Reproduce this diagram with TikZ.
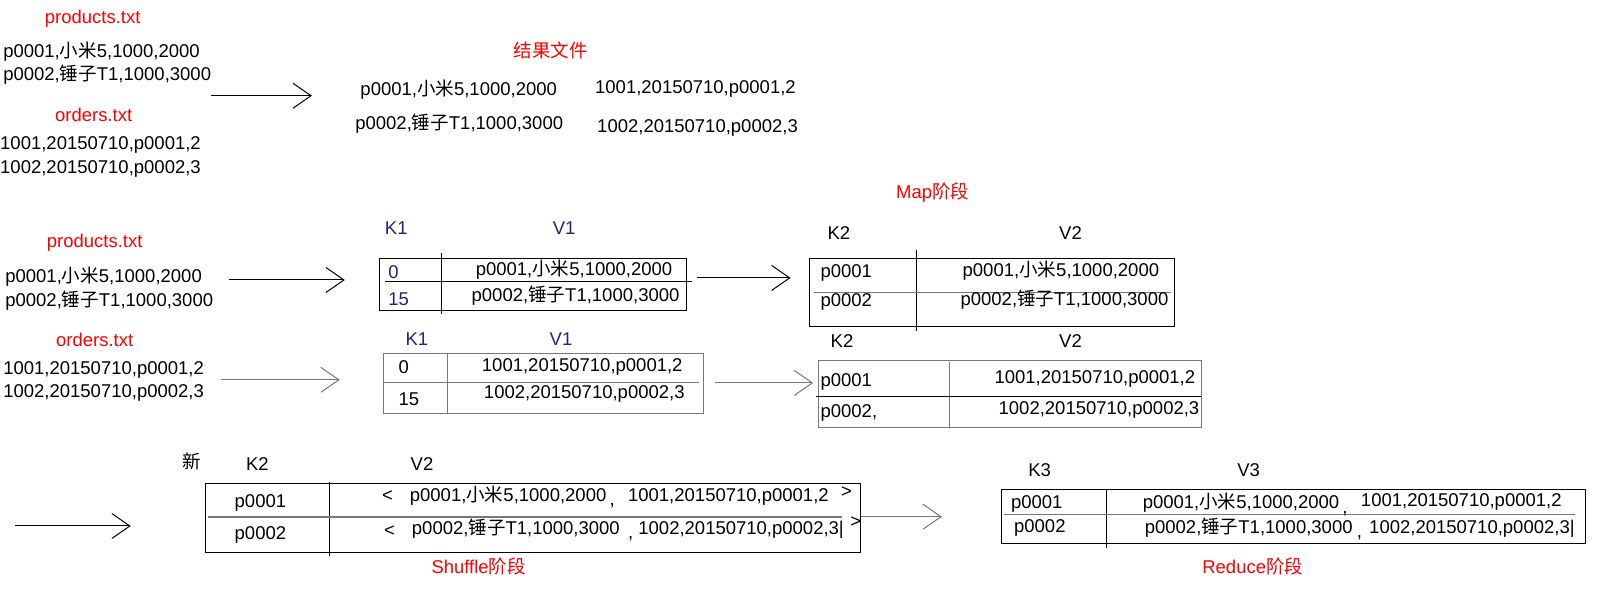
\documentclass[tikz,border=0pt]{standalone}
\usepackage{fontspec}
\setmainfont{Liberation Sans}
\newfontfamily\cjk{Noto Sans CJK SC}
\usetikzlibrary{arrows.meta}
\definecolor{knavy}{RGB}{35,35,125}
\definecolor{lgrey}{RGB}{120,120,120}
\begin{document}
\begin{tikzpicture}[x=1.0293pt,y=-1.0293pt,
  txt/.style={inner sep=0pt, font=\fontsize{18.5}{20}\selectfont, anchor=mid west, yshift=-3pt},
  ctxt/.style={txt, anchor=mid},
  lbl/.style={ctxt, text=red},
  hdr/.style={ctxt, text=knavy},
  arr/.style={line width=1pt, -{Straight Barb[length=18pt,width=25pt]}},
  tline/.style={line width=1pt},
  gline/.style={line width=1pt, draw=lgrey}]
\useasboundingbox (0,0) rectangle (1568,575.15);

% ---------- top section ----------
\node[lbl] (ptA) at (90,17) {products.txt};
\node[txt] (pA1) at (3,50) {p0001,{\cjk 小米}5,1000,2000};
\node[txt] (pA2) at (3,73) {p0002,{\cjk 锤子}T1,1000,3000};
\node[lbl] (otA) at (91,113) {orders.txt};
\node[txt] (oA1) at (0,140) {1001,20150710,p0001,2};
\node[txt] (oA2) at (0,163) {1002,20150710,p0002,3};
\coordinate (aAs) at (205,93);
\coordinate (aAe) at (303,93);
\draw[arr] (aAs) -- (aAe);
\node[lbl] (res) at (535,50) {\cjk 结果文件};
\node[txt] (rA1) at (350,87) {p0001,{\cjk 小米}5,1000,2000};
\node[txt] (rA2) at (345,120) {p0002,{\cjk 锤子}T1,1000,3000};
\node[txt] (rA3) at (578,85) {1001,20150710,p0001,2};
\node[txt] (rA4) at (580,123) {1002,20150710,p0002,3};

% ---------- map section ----------
\node[lbl] (mapl) at (906,187) {Map{\cjk 阶段}};
\node[lbl] (ptB) at (92,235) {products.txt};
\node[txt] (pB1) at (5,269) {p0001,{\cjk 小米}5,1000,2000};
\node[txt] (pB2) at (5,292) {p0002,{\cjk 锤子}T1,1000,3000};
\node[lbl] (otB) at (92,331) {orders.txt};
\node[txt] (oB1) at (3,358) {1001,20150710,p0001,2};
\node[txt] (oB2) at (3,381) {1002,20150710,p0002,3};
\coordinate (aBs) at (222,272);
\coordinate (aBe) at (335,272);
\draw[arr] (aBs) -- (aBe);
\coordinate (aCs) at (215,369);
\coordinate (aCe) at (330,369);
\draw[arr, draw=lgrey] (aCs) -- (aCe);

% table 1
\node[hdr] (k1a) at (385,222) {K1};
\node[hdr] (v1a) at (548,222) {V1};
\draw[tline] (369,251) rectangle (667,302);
\draw[tline] (429,246) -- (429,305);
\draw[tline] (374,273) -- (672,273);
\node[txt, text=knavy] (t1k1) at (377,265) {0};
\node[txt, text=knavy] (t1k2) at (377,291) {15};
\node[txt] (t1v1) at (462,262) {p0001,{\cjk 小米}5,1000,2000};
\node[txt] (t1v2) at (458,287) {p0002,{\cjk 锤子}T1,1000,3000};
\coordinate (aDs) at (677,270);
\coordinate (aDe) at (768,270);
\draw[arr] (aDs) -- (aDe);

% table 2
\node[hdr] (k1b) at (405,330) {K1};
\node[hdr] (v1b) at (545,330) {V1};
\draw[gline] (373,343) rectangle (683,402);
\draw[gline] (435,343) -- (435,402);
\draw[gline] (373,372) -- (679,372);
\node[txt] (t2k1) at (387,357) {0};
\node[txt] (t2k2) at (387,388) {15};
\node[txt] (t2v1) at (468,355) {1001,20150710,p0001,2};
\node[txt] (t2v2) at (470,382) {1002,20150710,p0002,3};
\coordinate (aEs) at (695,372);
\coordinate (aEe) at (790,372);
\draw[arr, draw=lgrey] (aEs) -- (aEe);

% table 3
\node[ctxt] (k2a) at (815,227) {K2};
\node[ctxt] (v2a) at (1040,227) {V2};
\draw[tline] (786,251) rectangle (1141,317);
\draw[tline] (890,243) -- (890,322);
\draw[gline] (791,284) -- (1138,284);
\node[txt] (t3k1) at (797,264) {p0001};
\node[txt] (t3k2) at (797,292) {p0002};
\node[txt] (t3v1) at (935,263) {p0001,{\cjk 小米}5,1000,2000};
\node[txt] (t3v2) at (933,291) {p0002,{\cjk 锤子}T1,1000,3000};

% table 4
\node[ctxt] (k2b) at (818,332) {K2};
\node[ctxt] (v2b) at (1040,332) {V2};
\draw[gline] (795,350) rectangle (1167,415);
\draw[gline] (922,352) -- (922,415);
\draw[tline] (793,385) -- (1167,385);
\node[txt] (t4k1) at (797,370) {p0001};
\node[txt] (t4k2) at (797,400) {p0002,};
\node[txt] (t4v1) at (966,367) {1001,20150710,p0001,2};
\node[txt] (t4v2) at (970,397) {1002,20150710,p0002,3};

% ---------- shuffle section ----------
\coordinate (aFs) at (15,511);
\coordinate (aFe) at (127,511);
\draw[arr] (aFs) -- (aFe);
\node[ctxt] (xin) at (186,450) {\cjk 新};
\node[ctxt] (k2c) at (250,452) {K2};
\node[ctxt] (v2c) at (410,452) {V2};
\draw[tline] (200,470) rectangle (836,537);
\draw[tline] (320,468) -- (320,540);
\draw[line width=2pt, draw=lgrey] (202,502) -- (818,502);
\node[ctxt] (t5k1) at (253,488) {p0001};
\node[ctxt] (t5k2) at (253,519) {p0002};
\node[txt] (t5l1) at (371,482) {<};
\node[txt] (t5a1) at (398,482) {p0001,{\cjk 小米}5,1000,2000};
\node[txt] (t5c1) at (592,486) {,};
\node[txt] (t5b1) at (610,482) {1001,20150710,p0001,2};
\node[txt] (t5r1) at (817,478) {>};
\node[txt] (t5l2) at (373,516) {<};
\node[txt] (t5a2) at (400,514) {p0002,{\cjk 锤子}T1,1000,3000};
\node[txt] (t5c2) at (610,518) {,};
\node[txt] (t5b2) at (620,514) {1002,20150710,p0002,3|};
\node[txt] (t5r2) at (826,507) {>};
\node[lbl] (shuf) at (465,552) {Shuffle{\cjk 阶段}};
\coordinate (aGs) at (836,502);
\coordinate (aGe) at (915,502);
\draw[arr, draw=lgrey] (aGs) -- (aGe);

% ---------- reduce section ----------
\node[ctxt] (k3) at (1010,457) {K3};
\node[ctxt] (v3) at (1213,457) {V3};
\draw[tline] (973,476) rectangle (1540,528);
\draw[tline] (1075,476) -- (1075,532);
\draw[gline] (975,500) -- (1530,500);
\node[txt] (t6k1) at (982,489) {p0001};
\node[txt] (t6k2) at (985,512) {p0002};
\node[txt] (t6a1) at (1110,489) {p0001,{\cjk 小米}5,1000,2000};
\node[txt] (t6c1) at (1304,493) {,};
\node[txt] (t6b1) at (1322,487) {1001,20150710,p0001,2};
\node[txt] (t6a2) at (1112,513) {p0002,{\cjk 锤子}T1,1000,3000};
\node[txt] (t6c2) at (1318,517) {,};
\node[txt] (t6b2) at (1330,513) {1002,20150710,p0002,3|};
\node[lbl] (redl) at (1217,552) {Reduce{\cjk 阶段}};
\end{tikzpicture}
\end{document}
